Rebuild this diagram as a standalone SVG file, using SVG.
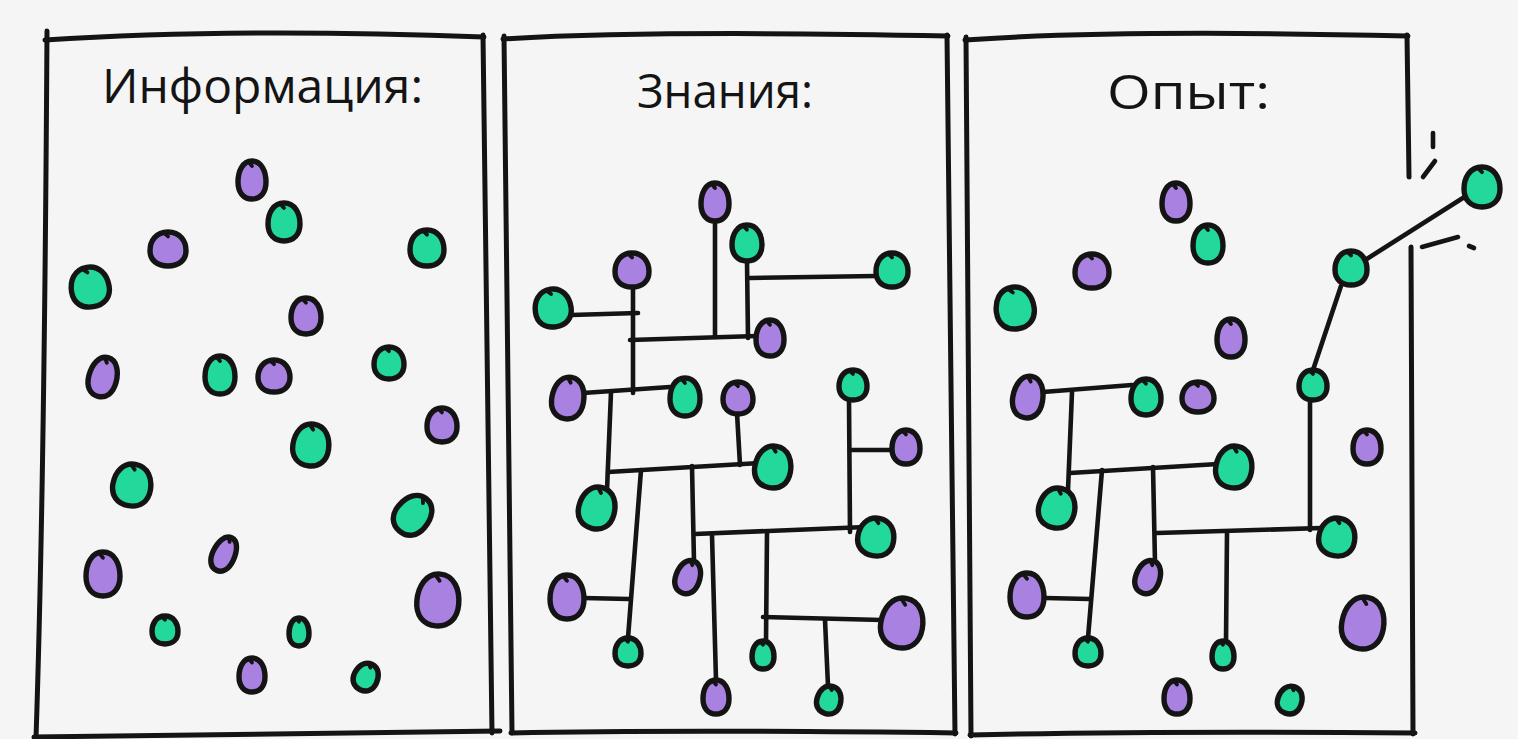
<svg xmlns="http://www.w3.org/2000/svg" xmlns:xlink="http://www.w3.org/1999/xlink" width="1518" height="739" viewBox="0 0 1518 739">
<style>
.frame{fill:none;stroke:#141414;stroke-width:5;stroke-linecap:round;stroke-linejoin:round}
.ln{fill:none;stroke:#141414;stroke-width:4.6;stroke-linecap:round}
.g{fill:#22d89b}
.p{fill:#a981e0}
.title{font-family:"Open Sans","Noto Sans","Liberation Sans",sans-serif;font-size:48px;fill:#141414}
</style>
<defs>
<g id="egg">
<path d="M0,-1 C0.68,-1 1,-0.45 1,0.1 C1,0.66 0.6,1 0,1 C-0.6,1 -1,0.66 -1,0.1 C-1,-0.45 -0.68,-1 0,-1 Z" stroke="#141414" stroke-width="5.4" vector-effect="non-scaling-stroke"/>
<path d="M-0.24,-0.96 L0.0,-0.74" fill="none" stroke="#141414" stroke-width="3.8" stroke-linecap="round" vector-effect="non-scaling-stroke"/>
</g>
</defs>
<rect x="0" y="0" width="1518" height="739" fill="#f5f5f5"/>

<g id="frames">
<g id="frame-info">
<path class="frame" d="M47,31 C46,200 44,500 36,738"/>
<path class="frame" d="M45,40 C150,33 300,30 484,37"/>
<path class="frame" d="M483,35 C486,300 488,550 492,733"/>
<path class="frame" d="M34,737 C200,734 350,732 500,731"/>
</g>
<g id="frame-knowledge">
<path class="frame" d="M504,36 C506,300 508,550 512,733"/>
<path class="frame" d="M503,39 C620,32 800,33 948,36"/>
<path class="frame" d="M947,35 C949,300 952,550 955,734"/>
<path class="frame" d="M511,733 C650,730 800,731 956,733"/>
</g>
<g id="frame-experience">
<path class="frame" d="M966,37 C967,300 968,550 971,736"/>
<path class="frame" d="M965,40 C1050,34 1200,31 1408,36"/>
<path class="frame" d="M1407,35 L1409,177"/>
<path class="frame" d="M1411,247 C1412,450 1413,600 1413,734"/>
<path class="frame" d="M970,735 C1100,732 1300,732 1415,733"/>
<path class="ln" d="M1433,133 L1433,147"/>
<path class="ln" d="M1435,161 L1423,177"/>
<path class="ln" d="M1422,247 L1458,237"/>
<path class="ln" d="M1469,246 L1474,248"/>
</g>
</g>

<g id="titles">
<text class="title" x="102" y="103" textLength="321" lengthAdjust="spacingAndGlyphs">Информация:</text>
<text class="title" x="637" y="108" textLength="176" lengthAdjust="spacingAndGlyphs">Знания:</text>
<text class="title" x="1107" y="109" textLength="163" lengthAdjust="spacingAndGlyphs">Опыт:</text>
</g>

<g id="connectors">
<path class="ln" d="M715,220 L715,337"/>
<path class="ln" d="M747,261 L748,338"/>
<path class="ln" d="M750,278 L876,276"/>
<path class="ln" d="M633,287 L633,393"/>
<path class="ln" d="M571,315 L638,313"/>
<path class="ln" d="M630,340 L757,336"/>
<path class="ln" d="M583,393 L670,387"/>
<path class="ln" d="M611,392 L607,490"/>
<path class="ln" d="M608,472 L760,463"/>
<path class="ln" d="M737,413 L740,465"/>
<path class="ln" d="M641,470 L628,638"/>
<path class="ln" d="M583,598 L629,599"/>
<path class="ln" d="M692,466 L694,562"/>
<path class="ln" d="M695,534 L866,527"/>
<path class="ln" d="M712,535 L716,680"/>
<path class="ln" d="M767,533 L766,641"/>
<path class="ln" d="M763,617 L882,620"/>
<path class="ln" d="M825,620 L828,686"/>
<path class="ln" d="M849,400 L850,532"/>
<path class="ln" d="M850,450 L892,450"/>

<path class="ln" d="M1043,392 L1132,385"/>
<path class="ln" d="M1072,392 L1068,490"/>
<path class="ln" d="M1070,473 L1218,464"/>
<path class="ln" d="M1102,470 L1088,638"/>
<path class="ln" d="M1045,598 L1090,599"/>
<path class="ln" d="M1153,467 L1155,562"/>
<path class="ln" d="M1157,533 L1322,528"/>
<path class="ln" d="M1227,533 L1226,641"/>
<path class="ln" d="M1310,400 L1310,530"/>
<path class="ln" d="M1313,370 L1341,286"/>
<path class="ln" d="M1362,262 L1466,196"/>
</g>

<g id="nodes-info">
<g id="i1"><use href="#egg" class="p" transform="translate(252 180) scale(14 19)"/></g>
<g id="i2"><use href="#egg" class="g" transform="translate(284 222) scale(16 19)"/></g>
<g id="i3"><use href="#egg" class="p" transform="translate(168 249) scale(18 17)"/></g>
<g id="i4"><use href="#egg" class="g" transform="translate(427 248) scale(17 18)"/></g>
<g id="i5"><use href="#egg" class="g" transform="translate(90 287) rotate(-10) scale(19 20)"/></g>
<g id="i6"><use href="#egg" class="p" transform="translate(306 316) scale(15 18)"/></g>
<g id="i7"><use href="#egg" class="p" transform="translate(103 377) rotate(15) scale(14 20)"/></g>
<g id="i8"><use href="#egg" class="g" transform="translate(220 375) scale(15 19)"/></g>
<g id="i9"><use href="#egg" class="p" transform="translate(274 376) scale(16 16)"/></g>
<g id="i10"><use href="#egg" class="g" transform="translate(389 363) scale(15 16)"/></g>
<g id="i11"><use href="#egg" class="p" transform="translate(442 425) scale(15 17)"/></g>
<g id="i12"><use href="#egg" class="g" transform="translate(311 445) rotate(8) scale(18 21)"/></g>
<g id="i13"><use href="#egg" class="g" transform="translate(132 485) rotate(10) scale(19 21)"/></g>
<g id="i14"><use href="#egg" class="g" transform="translate(413 515) rotate(40) scale(17 21)"/></g>
<g id="i15"><use href="#egg" class="p" transform="translate(224 554) rotate(25) scale(11 18)"/></g>
<g id="i16"><use href="#egg" class="p" transform="translate(103 574) scale(17 22)"/></g>
<g id="i17"><use href="#egg" class="p" transform="translate(438 600) rotate(5) scale(21 26)"/></g>
<g id="i18"><use href="#egg" class="g" transform="translate(165 630) scale(13 14)"/></g>
<g id="i19"><use href="#egg" class="g" transform="translate(299 632) scale(10 14)"/></g>
<g id="i20"><use href="#egg" class="p" transform="translate(252 675) scale(13 17)"/></g>
<g id="i21"><use href="#egg" class="g" transform="translate(366 677) rotate(25) scale(12 14)"/></g>
</g>

<g id="nodes-knowledge">
<g id="k1"><use href="#egg" class="p" transform="translate(715 202) scale(14 19)"/></g>
<g id="k2"><use href="#egg" class="g" transform="translate(747 243) scale(15 18)"/></g>
<g id="k3"><use href="#egg" class="p" transform="translate(632 270) scale(17 17)"/></g>
<g id="k4"><use href="#egg" class="g" transform="translate(892 270) scale(16 17)"/></g>
<g id="k5"><use href="#egg" class="g" transform="translate(553 308) rotate(-8) scale(18 19)"/></g>
<g id="k6"><use href="#egg" class="p" transform="translate(770 338) scale(14 18)"/></g>
<g id="k7"><use href="#egg" class="p" transform="translate(568 398) rotate(10) scale(16 21)"/></g>
<g id="k8"><use href="#egg" class="g" transform="translate(685 397) scale(15 19)"/></g>
<g id="k9"><use href="#egg" class="p" transform="translate(738 398) scale(15 16)"/></g>
<g id="k10"><use href="#egg" class="g" transform="translate(853 385) scale(14 15)"/></g>
<g id="k11"><use href="#egg" class="p" transform="translate(906 447) scale(14 17)"/></g>
<g id="k12"><use href="#egg" class="g" transform="translate(773 467) rotate(10) scale(18 21)"/></g>
<g id="k13"><use href="#egg" class="g" transform="translate(597 508) rotate(15) scale(18 21)"/></g>
<g id="k14"><use href="#egg" class="g" transform="translate(876 537) rotate(10) scale(18 19)"/></g>
<g id="k15"><use href="#egg" class="p" transform="translate(688 577) rotate(20) scale(12 17)"/></g>
<g id="k16"><use href="#egg" class="p" transform="translate(567 597) scale(17 22)"/></g>
<g id="k17"><use href="#egg" class="p" transform="translate(902 623) rotate(10) scale(21 25)"/></g>
<g id="k18"><use href="#egg" class="g" transform="translate(628 652) scale(13 14)"/></g>
<g id="k19"><use href="#egg" class="g" transform="translate(763 655) scale(11 14)"/></g>
<g id="k20"><use href="#egg" class="p" transform="translate(716 697) scale(13 17)"/></g>
<g id="k21"><use href="#egg" class="g" transform="translate(829 700) rotate(15) scale(12 14)"/></g>
</g>

<g id="nodes-experience">
<g id="e1"><use href="#egg" class="p" transform="translate(1176 202) scale(14 19)"/></g>
<g id="e2"><use href="#egg" class="g" transform="translate(1208 244) scale(15 19)"/></g>
<g id="e3"><use href="#egg" class="p" transform="translate(1092 271) scale(17 17)"/></g>
<g id="e4"><use href="#egg" class="g" transform="translate(1015 308) rotate(-8) scale(19 21)"/></g>
<g id="e5"><use href="#egg" class="p" transform="translate(1231 338) scale(14 19)"/></g>
<g id="e6"><use href="#egg" class="g" transform="translate(1351 268) scale(16 17)"/></g>
<g id="e7"><use href="#egg" class="g" transform="translate(1482 187) scale(18 20)"/></g>
<g id="e8"><use href="#egg" class="p" transform="translate(1028 397) rotate(10) scale(15 21)"/></g>
<g id="e9"><use href="#egg" class="g" transform="translate(1146 397) scale(15 18)"/></g>
<g id="e10"><use href="#egg" class="p" transform="translate(1198 397) scale(16 15)"/></g>
<g id="e11"><use href="#egg" class="g" transform="translate(1313 385) scale(14 15)"/></g>
<g id="e12"><use href="#egg" class="p" transform="translate(1367 447) scale(14 17)"/></g>
<g id="e13"><use href="#egg" class="g" transform="translate(1234 467) rotate(10) scale(18 21)"/></g>
<g id="e14"><use href="#egg" class="g" transform="translate(1057 508) rotate(15) scale(18 20)"/></g>
<g id="e15"><use href="#egg" class="g" transform="translate(1337 537) rotate(10) scale(18 19)"/></g>
<g id="e16"><use href="#egg" class="p" transform="translate(1148 577) rotate(20) scale(12 17)"/></g>
<g id="e17"><use href="#egg" class="p" transform="translate(1027 595) scale(17 22)"/></g>
<g id="e18"><use href="#egg" class="p" transform="translate(1363 623) rotate(10) scale(21 26)"/></g>
<g id="e19"><use href="#egg" class="g" transform="translate(1088 652) scale(13 14)"/></g>
<g id="e20"><use href="#egg" class="g" transform="translate(1223 655) scale(11 14)"/></g>
<g id="e21"><use href="#egg" class="p" transform="translate(1177 697) scale(13 17)"/></g>
<g id="e22"><use href="#egg" class="g" transform="translate(1290 700) rotate(20) scale(12 14)"/></g>
</g>
</svg>
